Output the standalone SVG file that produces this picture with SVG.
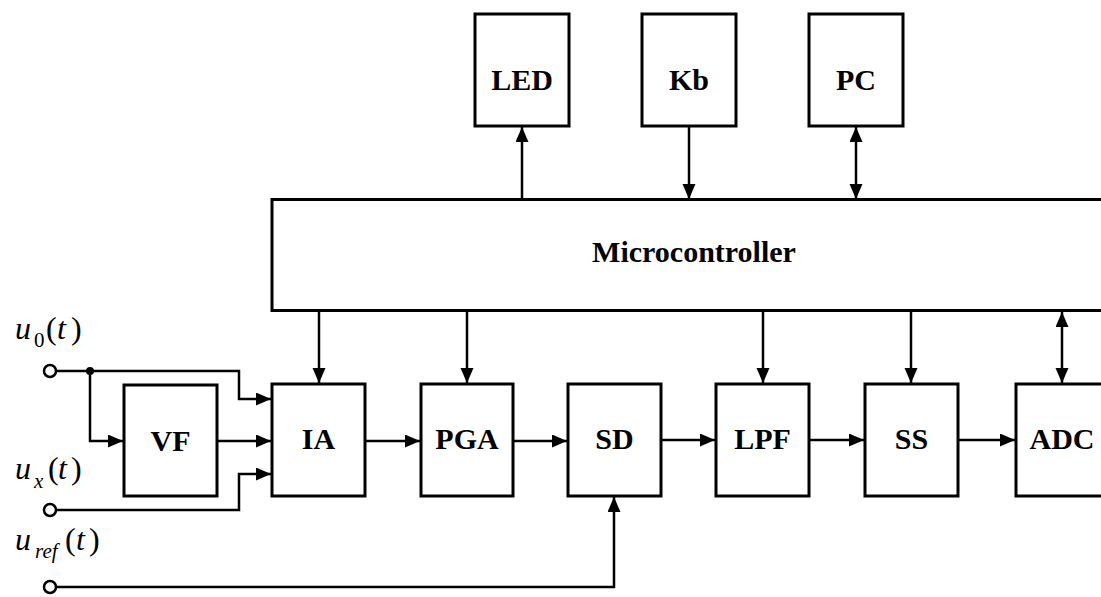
<svg xmlns="http://www.w3.org/2000/svg" width="1101" height="597" viewBox="0 0 1101 597">
<style>
.box{fill:#fff;stroke:#000;stroke-width:3}
.lbl{font-family:"Liberation Serif",serif;font-weight:bold;font-size:30px;text-anchor:middle;fill:#000}
.ln{fill:none;stroke:#000;stroke-width:2.5}
.math{font-family:"Liberation Serif",serif;font-size:32px;fill:#000}
.sub{font-size:21px}
.it{font-style:italic}
.term{fill:#fff;stroke:#000;stroke-width:2.5}
</style>
<defs>
<marker id="ah" markerUnits="userSpaceOnUse" markerWidth="16" markerHeight="14" refX="15" refY="6.5" orient="auto-start-reverse">
<path d="M0,0 L15,6.5 L0,13 z" fill="#000"/>
</marker>
</defs>
<rect width="1101" height="597" fill="#fff"/>
<g id="connectors">
<path class="ln" d="M56,371 H239 V399 H271" marker-end="url(#ah)"/>
<path class="ln" d="M90,371 V441 H123" marker-end="url(#ah)"/>
<circle cx="90" cy="371" r="4" fill="#000"/>
<path class="ln" d="M217,441 H271" marker-end="url(#ah)"/>
<path class="ln" d="M56,510 H239 V474 H271" marker-end="url(#ah)"/>
<path class="ln" d="M56,587 H614 V497" marker-end="url(#ah)"/>
<path class="ln" d="M366,441 H420" marker-end="url(#ah)"/>
<path class="ln" d="M513,441 H567" marker-end="url(#ah)"/>
<path class="ln" d="M661,440 H715" marker-end="url(#ah)"/>
<path class="ln" d="M809,440 H864" marker-end="url(#ah)"/>
<path class="ln" d="M958,440 H1015" marker-end="url(#ah)"/>
<path class="ln" d="M319,311 V383" marker-end="url(#ah)"/>
<path class="ln" d="M467,311 V383" marker-end="url(#ah)"/>
<path class="ln" d="M763,311 V383" marker-end="url(#ah)"/>
<path class="ln" d="M911,311 V383" marker-end="url(#ah)"/>
<path class="ln" d="M1062,312 V383" marker-start="url(#ah)" marker-end="url(#ah)"/>
<path class="ln" d="M522,199 V127" marker-end="url(#ah)"/>
<path class="ln" d="M689,127 V199" marker-end="url(#ah)"/>
<path class="ln" d="M856,127 V199" marker-start="url(#ah)" marker-end="url(#ah)"/>
</g>
<g id="term-u0"><circle class="term" cx="50" cy="371" r="6"/>
<text class="math" y="339"><tspan class="it" x="15">u</tspan><tspan class="sub" x="34" y="347">0</tspan><tspan x="46" y="339">(</tspan><tspan class="it" x="57">t</tspan><tspan x="71">)</tspan></text></g>
<g id="term-ux"><circle class="term" cx="50" cy="510" r="6"/>
<text class="math" y="479"><tspan class="it" x="15">u</tspan><tspan class="sub it" x="34" y="488">x</tspan><tspan x="48" y="479">(</tspan><tspan class="it" x="58">t</tspan><tspan x="71">)</tspan></text></g>
<g id="term-uref"><circle class="term" cx="50" cy="587" r="6"/>
<text class="math" y="550"><tspan class="it" x="15">u</tspan><tspan class="sub it" x="35" y="558">ref</tspan><tspan x="65" y="550">(</tspan><tspan class="it" x="76">t</tspan><tspan x="89">)</tspan></text></g>
<g id="micro"><rect class="box" x="272" y="199.5" width="840" height="111"/><text class="lbl" x="694" y="262">Microcontroller</text></g>
<g id="led"><rect class="box" x="475" y="14" width="94" height="112"/><text class="lbl" x="522" y="90">LED</text></g>
<g id="kb"><rect class="box" x="642" y="14" width="94" height="112"/><text class="lbl" x="689" y="90">Kb</text></g>
<g id="pc"><rect class="box" x="809" y="14" width="94" height="112"/><text class="lbl" x="856" y="90">PC</text></g>
<g id="vf"><rect class="box" x="124" y="385" width="93" height="111"/><text class="lbl" x="170.5" y="451">VF</text></g>
<g id="ia"><rect class="box" x="272" y="384" width="93" height="112"/><text class="lbl" x="318.5" y="449">IA</text></g>
<g id="pga"><rect class="box" x="421" y="384" width="92" height="112"/><text class="lbl" x="467" y="449">PGA</text></g>
<g id="sd"><rect class="box" x="568" y="384" width="93" height="112"/><text class="lbl" x="614.5" y="449">SD</text></g>
<g id="lpf"><rect class="box" x="716" y="384" width="93" height="112"/><text class="lbl" x="762.5" y="449">LPF</text></g>
<g id="ss"><rect class="box" x="865" y="384" width="93" height="112"/><text class="lbl" x="911.5" y="449">SS</text></g>
<g id="adc"><rect class="box" x="1016" y="384" width="100" height="112"/><text class="lbl" x="1062" y="449">ADC</text></g>
</svg>
